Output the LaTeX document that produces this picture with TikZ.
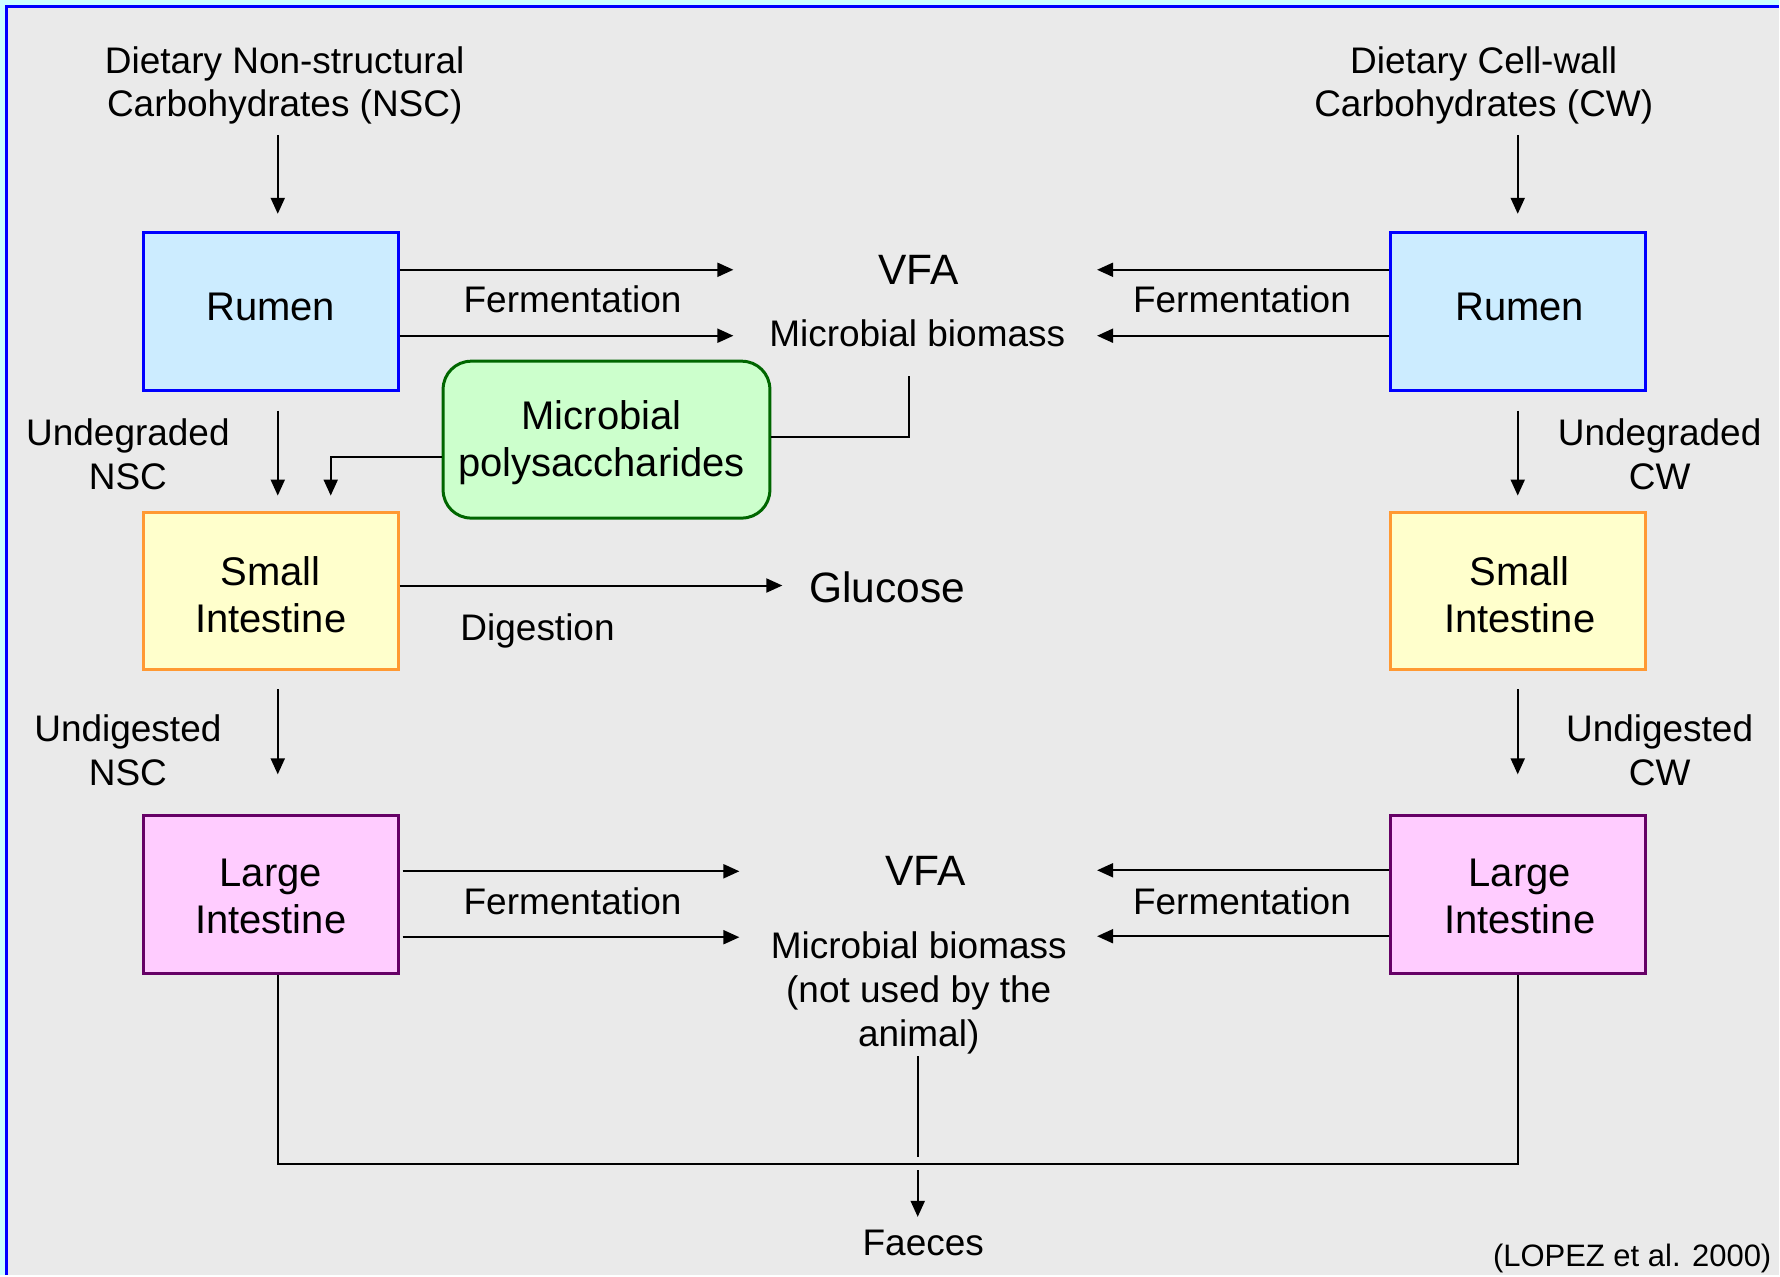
\documentclass[tikz,border=0pt]{standalone}
\usepackage{fontspec}
\setmainfont{Liberation Sans}
\usetikzlibrary{arrows.meta}

\definecolor{outerbg}{HTML}{CCFFFF}
\definecolor{panelbg}{HTML}{EAEAEA}
\definecolor{frameblue}{HTML}{0000FF}
\definecolor{rumenfill}{HTML}{CCECFF}
\definecolor{sifill}{HTML}{FFFFCC}
\definecolor{siline}{HTML}{FF9933}
\definecolor{lifill}{HTML}{FFCCFF}
\definecolor{liline}{HTML}{660066}
\definecolor{mpfill}{HTML}{CCFFCC}
\definecolor{mpline}{HTML}{006600}

\begin{document}
\begin{tikzpicture}[x=1pt, y=-1pt,
  organ/.style={draw, line width=3pt, minimum width=255pt, minimum height=158pt, inner sep=0pt},
  organtext/.style={inner sep=0pt, align=center, font=\fontsize{40}{47}\selectfont},
  rumen/.style={organ, fill=rumenfill, draw=frameblue},
  smallint/.style={organ, fill=sifill, draw=siline},
  largeint/.style={organ, fill=lifill, draw=liline},
  label/.style={inner sep=0pt, align=center, font=\fontsize{37}{44}\selectfont},
  product/.style={inner sep=0pt, font=\fontsize{42.5}{50}\selectfont},
  link/.style={line width=2pt},
  flow/.style={link, -{Triangle[length=16pt, width=14pt]}}
]
% page background and frame
\fill[outerbg] (0,0) rectangle (1780,1276);
\fill[panelbg] (5,5) rectangle (1780,1276);
\draw[frameblue, line width=3pt] (6.5,1276) -- (6.5,6.5) -- (1780,6.5);
\useasboundingbox (0,0) rectangle (1780,1276);

% column guides
\coordinate (colL) at (278,0);
\coordinate (colR) at (1519,0);

% inputs
\node[label] (nscT) at (285,85.5) {Dietary Non-structural\\Carbohydrates (NSC)};
\node[label] (cwT) at (1485,85.5) {Dietary Cell-wall\\Carbohydrates (CW)};

% organs
\node[rumen] (rumL) at (271,311.5) {};
\node[rumen] (rumR) at (1519,311.5) {};
\node[smallint] (siL) at (271,591.5) {};
\node[smallint] (siR) at (1519,591.5) {};
\node[largeint] (liL) at (271,895.5) {};
\node[largeint] (liR) at (1519,895.5) {};
\node[draw=mpline, fill=mpfill, line width=3pt, rounded corners=28pt,
  minimum width=327pt, minimum height=157pt, inner sep=0pt] (mpoly) at (607,440) {};

% organ names
\node[organtext] (rumLt) at ([yshift=4pt]rumL.center) {Rumen};
\node[organtext] (rumRt) at ([yshift=4pt,xshift=2pt]rumR.center) {Rumen};
\node[organtext] (siLt) at ([yshift=-3.5pt]siL.center) {Small\\Intestine};
\node[organtext] (siRt) at ([yshift=-3.5pt,xshift=2pt]siR.center) {Small\\Intestine};
\node[organtext] (liLt) at ([yshift=-2pt]liL.center) {Large\\Intestine};
\node[organtext] (liRt) at ([yshift=-2pt,xshift=2pt]liR.center) {Large\\Intestine};
\node[organtext] (mpolyt) at ([yshift=-3.5pt,xshift=-5pt]mpoly.center) {Microbial\\polysaccharides};

% products
\node[product] (vfaT) at (919.5,270) {VFA};
\node[label] (mbT) at (918,334) {Microbial biomass};
\node[product] (glu) at (888,588) {Glucose};
\node[product] (vfaB) at (926,872) {VFA};
\node[label] (mbB) at (919.5,994) {Microbial biomass\\(not used by the\\animal)};
\node[label] (faeces) at (924,1244) {Faeces};

% process labels
\node[label] (fermTL) at (573,300) {Fermentation};
\node[label] (fermTR) at (1243,300) {Fermentation};
\node[label] (fermBL) at (573,902.5) {Fermentation};
\node[label] (fermBR) at (1243,902.5) {Fermentation};
\node[label] (dig) at (538,631) {Digestion};
\node[label] (udgL) at (128,455) {Undegraded\\NSC};
\node[label] (udgR) at (1661,455) {Undegraded\\CW};
\node[label] (uddL) at (128,751) {Undigested\\NSC};
\node[label] (uddR) at (1661,751) {Undigested\\CW};
\node[inner sep=0pt, anchor=east, font=\fontsize{31}{37}\selectfont] (src) at (1773,1260) {(LOPEZ et al. 2000)};

% intake
\draw[flow, shorten <=10pt, shorten >=17pt] (nscT.south -| colL) -- (rumL.north -| colL);
\draw[flow, shorten <=10pt, shorten >=17pt] (cwT.south -| colR) -- (rumR.north -| colR);

% rumen fermentation
\coordinate (inTL1) at (734,270);
\coordinate (inTL2) at (734,336);
\coordinate (inTR1) at (1098,270);
\coordinate (inTR2) at (1098,336);
\draw[flow] (inTL1 -| rumL.east) -- (inTL1);
\draw[flow] (inTL2 -| rumL.east) -- (inTL2);
\draw[flow] (inTR1 -| rumR.west) -- (inTR1);
\draw[flow] (inTR2 -| rumR.west) -- (inTR2);

% microbial polysaccharides
\coordinate (mbJ) at (910,437);
\coordinate (mbUp) at (910,376);
\draw[link] (mbJ -| mpoly.east) -- (mbJ) -- (mbUp);
\coordinate (mpJ) at (331,457.5);
\draw[flow, shorten >=15pt] (mpJ -| mpoly.west) -- (mpJ) -- (mpJ |- siL.north);

% rumen to small intestine
\draw[flow, shorten <=19pt, shorten >=15pt] (rumL.south -| colL) -- (siL.north -| colL);
\draw[flow, shorten <=19pt, shorten >=15pt] (rumR.south -| colR) -- (siR.north -| colR);

% digestion
\coordinate (gluIn) at (783,586);
\draw[flow] (gluIn -| siL.east) -- (gluIn);

% small to large intestine
\draw[flow, shorten <=18pt, shorten >=40pt] (siL.south -| colL) -- (liL.north -| colL);
\draw[flow, shorten <=18pt, shorten >=40pt] (siR.south -| colR) -- (liR.north -| colR);

% hindgut fermentation
\coordinate (inBL1) at (740,872);
\coordinate (inBL2) at (740,938);
\coordinate (inBR1) at (1098,871);
\coordinate (inBR2) at (1098,937);
\draw[flow, shorten <=3pt] (inBL1 -| liL.east) -- (inBL1);
\draw[flow, shorten <=3pt] (inBL2 -| liL.east) -- (inBL2);
\draw[flow] (inBR1 -| liR.west) -- (inBR1);
\draw[flow] (inBR2 -| liR.west) -- (inBR2);

% faeces
\coordinate (bus) at (918.5,1164.5);
\coordinate (dropTop) at (918.5,1057);
\draw[link] (liL.south -| colL) -- (colL |- bus) -- (colR |- bus) -- (liR.south -| colR);
\draw[link, shorten >=7pt] (dropTop) -- (bus);
\draw[flow, shorten <=6.5pt, shorten >=13pt] (bus) -- (bus |- faeces.north);
\end{tikzpicture}
\end{document}
